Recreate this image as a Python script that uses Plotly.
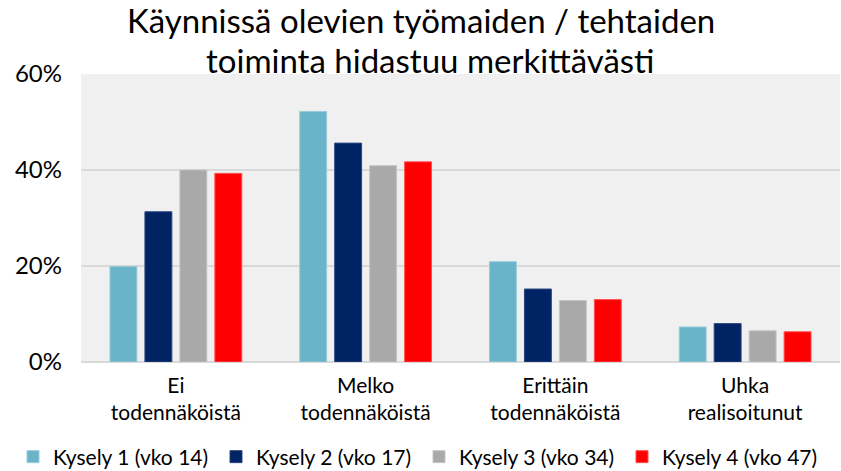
import plotly.graph_objects as go

categories = ["Ei<br>todennäköistä", "Melko<br>todennäköistä", "Erittäin<br>todennäköistä", "Uhka<br>realisoitunut"]
series_names = ["Kysely 1 (vko 14)", "Kysely 2 (vko 17)", "Kysely 3 (vko 34)", "Kysely 4 (vko 47)"]
kysely1 = [0.199, 0.522, 0.209, 0.073]
kysely2 = [0.313, 0.456, 0.152, 0.080]
kysely3 = [0.400, 0.409, 0.128, 0.065]
kysely4 = [0.393, 0.417, 0.130, 0.063]
colors = ["#6AB4C9", "#002463", "#A9A9A9", "#FF0000"]
outline = ["#9ACBDB", "#2A4680", "#C4C4C4", "#FF5050"]
tick_vals = [0, 0.2, 0.4, 0.6]
tick_text = ["0%", "20%", "40%", "60%"]
title_lines = ["Käynnissä olevien työmaiden / tehtaiden", "toiminta hidastuu merkittävästi"]

W, H = 841, 471
FONT = "Lato"
legend_names = ["legend", "legend2", "legend3", "legend4"]
legend_left_px = [13, 216, 419, 622]

fig = go.Figure()
for name, vals, c, oc, lg in zip(series_names, [kysely1, kysely2, kysely3, kysely4], colors, outline, legend_names):
    fig.add_trace(go.Bar(x=categories, y=vals, name=name, legend=lg,
                         marker=dict(color=c, line=dict(color=oc, width=1))))

# title, one annotation per line
fig.add_annotation(text=title_lines[0], xref="paper", yref="paper", x=(421 - 81) / 759, y=1,
                   xanchor="center", yanchor="bottom", yshift=32, showarrow=False,
                   font=dict(family=FONT, size=33, color="#000000"))
fig.add_annotation(text=title_lines[1], xref="paper", yref="paper", x=(430 - 81) / 759, y=1,
                   xanchor="center", yanchor="bottom", yshift=-8, showarrow=False,
                   font=dict(family=FONT, size=33, color="#000000"))

legend_layout = {}
for lg, lx in zip(legend_names, legend_left_px):
    legend_layout[lg] = dict(orientation="h", x=lx / W, xanchor="left", xref="container",
                             y=14 / H, yanchor="middle", yref="container",
                             font=dict(family=FONT, size=21, color="#000000"), itemwidth=30,
                             bgcolor="rgba(0,0,0,0)")

fig.update_layout(
    width=W, height=H,
    margin=dict(l=81, r=1, t=74, b=109, autoexpand=False),
    paper_bgcolor="white", plot_bgcolor="#F0F0F0",
    barmode="group", bargap=0.263, bargroupgap=0.23,
    font=dict(family=FONT, color="#000000"),
    showlegend=True,
    **legend_layout,
)
fig.update_yaxes(range=[0, 0.6], tickvals=tick_vals, ticktext=tick_text,
                 showgrid=True, gridcolor="#D9D9D9", gridwidth=1.5,
                 zeroline=True, zerolinecolor="#D9D9D9", zerolinewidth=1.5,
                 tickfont=dict(family=FONT, size=24), ticks="", ticklen=0,
                 ticklabelstandoff=18, automargin=False)
fig.update_xaxes(tickfont=dict(family=FONT, size=21), showline=False, ticks="",
                 ticklabelstandoff=9, automargin=False)

fig.write_html("out.html", config={"displayModeBar": False},
               post_script="document.body.style.margin='0';document.body.style.overflow='hidden';")
